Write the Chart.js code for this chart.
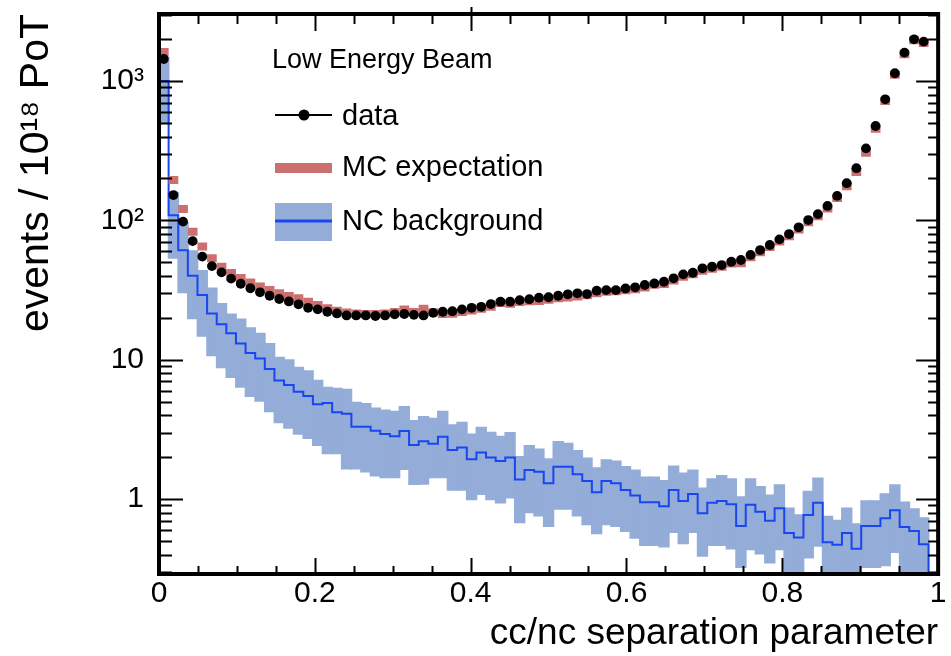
<!DOCTYPE html>
<html lang="en">
<head>
    <meta charset="UTF-8">
    <title>cc/nc separation parameter - Low Energy Beam</title>
    <script src="https://cdn.jsdelivr.net/npm/chart.js@4.4.0/dist/chart.umd.min.js"></script>
    <style>
        body {
            margin: 0;
            background: #fff;
        }
        #wrap {
            width: 951px;
            height: 656px;
        }
    </style>
</head>
<body>
    <div id="wrap"><canvas id="sepChart" width="951" height="656"></canvas></div>
    <script>
        // 81 bins from 0 to 1, events / 1e18 PoT
        var nBins = 81;

        var dataValues = [1440, 152, 98, 71, 55, 47, 42.4, 38.2, 35.1, 32.6,
            30.5, 28.8, 27.3, 26.2, 25.0, 23.6, 23.0, 22.1, 21.5, 20.8,
            20.8, 20.8, 20.6, 20.8, 21.2, 21.3, 21.0, 20.8, 21.7, 22.1,
            22.3, 23.0, 23.6, 24.0, 25.1, 26.1, 26.1, 26.8, 27.2, 27.9,
            28.1, 28.8, 29.5, 30.0, 29.6, 31.3, 31.6, 31.6, 32.5, 33.1,
            34.4, 35.3, 36.3, 38.4, 41.0, 42.1, 45.3, 46.5, 47.8, 50.5,
            52.0, 56.5, 61.3, 66.6, 73.1, 79.8, 89.2, 100.6, 111, 127,
            150, 185, 237, 329, 476, 740, 1138, 1600, 1995, 1919, null];

        var mcValues = [1620, 195, 121, 83, 65, 53.5, 46.6, 42, 38.6, 35.9,
            33.5, 31.7, 30.0, 28.7, 27.6, 26.1, 24.7, 23.4, 22.5, 21.8,
            21.5, 21.3, 21.3, 21.5, 22.0, 22.9, 22.0, 23.2, 21.9, 21.3,
            21.4, 22.0, 22.6, 23.2, 24.0, 25.5, 25.2, 26.0, 26.3, 26.4,
            27.0, 27.6, 28.0, 28.5, 29.0, 30.0, 30.8, 31.0, 31.5, 32.0,
            33.0, 34.5, 35.0, 37.0, 39.5, 41.0, 43.5, 45.0, 46.5, 49.0,
            49.3, 54.5, 59, 64.5, 70.5, 77, 86, 97, 107, 122,
            145, 176, 223, 306, 455, 720, 1110, 1560, 1960, 1880, null];

        var ncValues = [1000, 109, 61, 40, 29.1, 21.5, 18.0, 15.5, 13.1, 11.2,
            10.2, 8.6, 7.1, 6.6, 5.9, 5.5, 4.8, 4.9, 4.2, 4.1,
            3.3, 3.3, 3.1, 2.93, 2.83, 3.08, 2.44, 2.6, 2.5, 2.8,
            2.25, 2.35, 1.93, 2.16, 1.99, 1.88, 1.99, 1.38, 1.62, 1.57,
            1.30, 1.71, 1.71, 1.51, 1.35, 1.12, 1.35, 1.30, 1.16, 1.06,
            0.95, 0.95, 0.89, 1.16, 0.97, 1.09, 0.79, 0.94, 0.97, 0.92,
            0.64, 0.91, 0.81, 0.70, 0.86, 0.57, 0.53, 0.77, 0.94, 0.49,
            0.47, 0.57, 0.44, 0.64, 0.64, 0.73, 0.83, 0.63, 0.59, 0.475, 0.01];

        var ncLow = [500, 53, 30, 19.5, 14.6, 10.6, 8.7, 7.4, 6.3, 5.4,
            5.0, 4.2, 3.5, 3.2, 2.9, 2.7, 2.4, 2.1, 2.1, 1.63,
            1.63, 1.55, 1.45, 1.41, 1.41, 1.62, 1.26, 1.27, 1.41, 1.41,
            1.15, 1.15, 0.98, 1.07, 0.98, 0.93, 1.01, 0.67, 0.79, 0.75,
            0.63, 0.84, 0.84, 0.75, 0.65, 0.56, 0.65, 0.63, 0.58, 0.52,
            0.46, 0.46, 0.45, 0.57, 0.475, 0.57, 0.385, 0.46, 0.46, 0.435,
            0.32, 0.43, 0.40, 0.345, 0.43, 0.2, 0.2, 0.375, 0.455, 0.2,
            0.2, 0.2, 0.2, 0.32, 0.32, 0.33, 0.41, 0.2, 0.2, 0.2, null];

        var ncHigh = [1500, 160, 98, 61, 44, 33, 25.5, 21.5, 19.8, 17.1,
            15.6, 13.2, 10.5, 10.1, 8.9, 8.4, 7.2, 6.4, 6.3, 6.2,
            5.0, 4.9, 4.55, 4.4, 4.3, 4.65, 3.7, 3.94, 3.83, 4.3,
            3.44, 3.59, 2.96, 3.3, 3.04, 2.85, 3.03, 2.04, 2.44, 2.31,
            1.96, 2.61, 2.54, 2.25, 1.99, 1.69, 1.93, 1.89, 1.73, 1.63,
            1.45, 1.45, 1.37, 1.74, 1.55, 1.63, 1.21, 1.41, 1.49, 1.41,
            1.05, 1.41, 1.24, 1.08, 1.28, 0.87, 0.78, 1.15, 1.43, 0.76,
            0.71, 0.87, 0.67, 0.98, 0.98, 1.10, 1.28, 0.96, 0.86, 0.74, null];

        var xTickValues = [0, 0.2, 0.4, 0.6, 0.8, 1];
        var xTickLabels = ['0', '0.2', '0.4', '0.6', '0.8', '1'];
        var yTickValues = [1, 10, 100, 1000];
        var yTickLabels = ['1', '10', '10²', '10³'];

        var mcColor = '#cc6f6f';
        var bandColor = '#94acd8';
        var ncColor = '#1846f0';
        var fontFamily = '"Liberation Sans", Arial, Helvetica, sans-serif';

        var binWidth = 1 / nBins;
        var centers = dataValues.map(function (v, i) { return (i + 0.5) * binWidth; });

        // histogram outline: one point per left bin edge, plus the closing right edge
        var ncLine = ncValues.map(function (v, i) { return { x: i * binWidth, y: v }; });
        ncLine.push({ x: 1, y: ncValues[nBins - 1] });

        // inward ticks and frame, ROOT style
        var framePlugin = {
            id: 'rootFrame',
            afterDatasetsDraw: function (chart) {
                var ctx = chart.ctx;
                var a = chart.chartArea;
                var xs = chart.scales.x;
                var ys = chart.scales.y;
                ctx.save();
                ctx.strokeStyle = '#000';
                ctx.lineWidth = 2;
                ctx.beginPath();
                for (var k = 0; k <= 20; k++) {
                    var px = Math.round(xs.getPixelForValue(k * 0.05)) + 0.5;
                    var major = k % 4 === 0;
                    ctx.moveTo(px, a.bottom);
                    ctx.lineTo(px, a.bottom - (major ? 16 : 8));
                    ctx.moveTo(px, a.top);
                    ctx.lineTo(px, a.top + (major ? 17 : 10));
                }
                for (var e = -1; e <= 3; e++) {
                    for (var m = 1; m <= 9; m++) {
                        var v = m * Math.pow(10, e);
                        if (v < ys.min || v > ys.max) continue;
                        var py = Math.round(ys.getPixelForValue(v)) + 0.5;
                        ctx.moveTo(a.left, py);
                        ctx.lineTo(a.left + (m === 1 ? 24 : 13), py);
                        ctx.moveTo(a.right, py);
                        ctx.lineTo(a.right - (m === 1 ? 22 : 10), py);
                    }
                }
                // small stray mark above the frame at 0.4
                var p4 = Math.round(xs.getPixelForValue(0.4)) + 0.5;
                ctx.moveTo(p4, a.top);
                ctx.lineTo(p4, a.top - 7);
                ctx.stroke();

                ctx.lineWidth = 4;
                ctx.strokeRect(a.left, a.top, a.right - a.left, a.bottom - a.top);
                ctx.restore();
            }
        };

        var legendPlugin = {
            id: 'boxLegend',
            afterDraw: function (chart) {
                var ctx = chart.ctx;
                var ds = chart.data.datasets;
                ctx.save();
                ctx.fillStyle = '#000';
                ctx.textBaseline = 'alphabetic';
                ctx.font = '27px ' + fontFamily;
                ctx.fillText('Low Energy Beam', 272, 68);

                // data
                ctx.strokeStyle = '#000';
                ctx.lineWidth = 2;
                ctx.beginPath();
                ctx.moveTo(275, 115);
                ctx.lineTo(332, 115);
                ctx.stroke();
                ctx.beginPath();
                ctx.arc(304, 115, 5.5, 0, Math.PI * 2);
                ctx.fill();

                // MC expectation
                ctx.fillStyle = mcColor;
                ctx.fillRect(275, 163, 57, 10);

                // NC background
                ctx.fillStyle = bandColor;
                ctx.fillRect(275, 203, 57, 38);
                ctx.fillStyle = ncColor;
                ctx.fillRect(275, 219.5, 57, 3);

                ctx.fillStyle = '#000';
                ctx.font = '29px ' + fontFamily;
                ctx.fillText(ds[0].label, 342, 125);
                ctx.fillText(ds[1].label, 342, 176);
                ctx.fillText(ds[2].label, 342, 230);
                ctx.restore();
            }
        };

        var ctx = document.getElementById('sepChart').getContext('2d');
        var sepChart = new Chart(ctx, {
            type: 'bar',
            data: {
                datasets: [
                    {
                        type: 'line',
                        label: 'data',
                        data: centers.map(function (x, i) { return { x: x, y: dataValues[i] }; }),
                        showLine: false,
                        pointRadius: 4.9,
                        pointHoverRadius: 4.9,
                        pointBackgroundColor: '#000',
                        pointBorderColor: '#000',
                        pointBorderWidth: 0
                    },
                    {
                        type: 'line',
                        label: 'MC expectation',
                        data: centers.map(function (x, i) { return { x: x, y: mcValues[i] }; }),
                        showLine: false,
                        pointStyle: 'line',
                        pointRadius: 4.86,
                        pointHoverRadius: 4.86,
                        pointBorderColor: mcColor,
                        pointBorderWidth: 8
                    },
                    {
                        type: 'line',
                        label: 'NC background',
                        data: ncLine,
                        stepped: true,
                        borderColor: ncColor,
                        borderWidth: 2,
                        pointRadius: 0,
                        fill: false
                    },
                    {
                        type: 'bar',
                        label: 'NC uncertainty',
                        data: centers.map(function (x, i) {
                            return { x: x, y: ncLow[i] === null ? null : [ncLow[i], ncHigh[i]] };
                        }),
                        backgroundColor: bandColor,
                        borderWidth: 0,
                        inflateAmount: 0,
                        // overlap neighbouring bins so no hairline gaps show
                        barPercentage: 1.18,
                        categoryPercentage: 1
                    }
                ]
            },
            options: {
                responsive: false,
                animation: false,
                events: [],
                layout: { padding: { top: 14, right: 4, bottom: 0, left: 0 } },
                plugins: {
                    legend: { display: false },
                    tooltip: { enabled: false }
                },
                scales: {
                    x: {
                        type: 'linear',
                        min: 0,
                        max: 1,
                        offset: false,
                        grid: { display: false, drawTicks: false, offset: false },
                        border: { display: false },
                        afterBuildTicks: function (s) {
                            s.ticks = xTickValues.map(function (v) { return { value: v }; });
                        },
                        ticks: {
                            autoSkip: false,
                            maxRotation: 0,
                            padding: 5,
                            color: '#000',
                            font: { family: fontFamily, size: 30, lineHeight: 1 },
                            callback: function (value, index) { return xTickLabels[index]; }
                        },
                        title: {
                            display: true,
                            text: 'cc/nc separation parameter',
                            align: 'end',
                            color: '#000',
                            font: { family: fontFamily, size: 37, lineHeight: 1 },
                            padding: { top: 0, bottom: 4 }
                        },
                        afterFit: function (s) {
                            s.height = 82;
                            s.paddingLeft = 0;
                            s.paddingRight = 0;
                        }
                    },
                    y: {
                        type: 'logarithmic',
                        min: 0.29,
                        max: 3030,
                        grid: { display: false, drawTicks: false },
                        border: { display: false },
                        afterBuildTicks: function (s) {
                            s.ticks = yTickValues.map(function (v) { return { value: v }; });
                        },
                        ticks: {
                            autoSkip: false,
                            padding: 15,
                            color: '#000',
                            font: { family: fontFamily, size: 30, lineHeight: 1 },
                            callback: function (value) { return yTickLabels[yTickValues.indexOf(value)]; }
                        },
                        title: {
                            display: true,
                            text: 'events / 10¹⁸ PoT',
                            align: 'end',
                            color: '#000',
                            font: { family: fontFamily, size: 41, lineHeight: 1 },
                            padding: { top: 16, bottom: 0 }
                        },
                        afterFit: function (s) {
                            s.width = 159;
                            s.paddingTop = 0;
                            s.paddingBottom = 0;
                        }
                    }
                }
            },
            plugins: [framePlugin, legendPlugin]
        });
    </script>
</body>
</html>
